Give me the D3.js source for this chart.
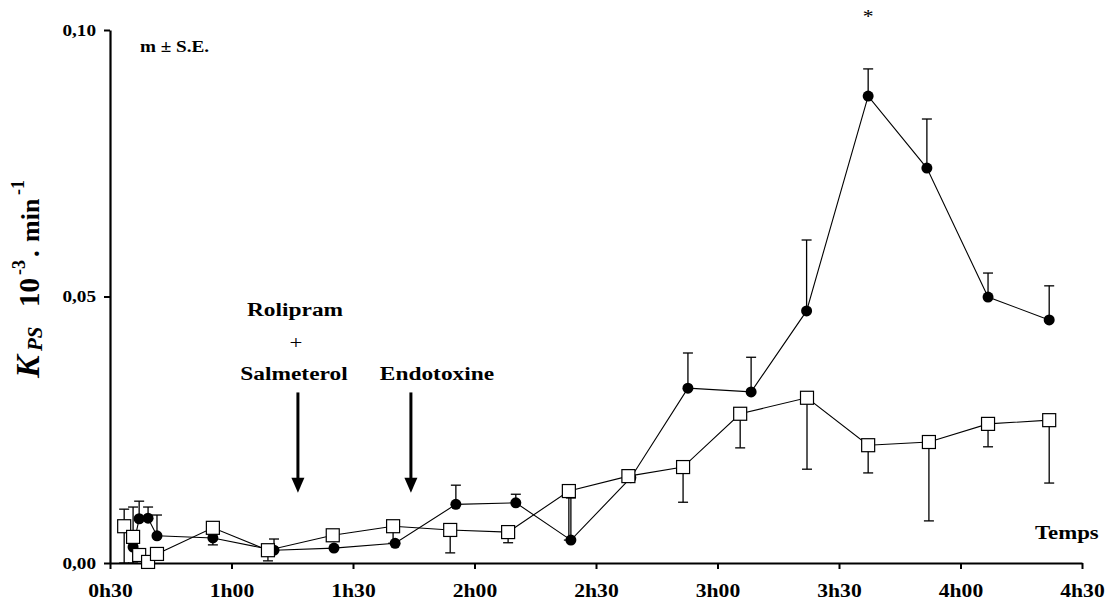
<!DOCTYPE html>
<html>
<head>
<meta charset="utf-8">
<script src="https://cdn.jsdelivr.net/npm/d3@7"></script>
<style>
  body { margin: 0; background: #fff; }
  svg text { font-family: "Liberation Serif", "DejaVu Serif", serif; font-weight: bold; }
</style>
</head>
<body>
<svg id="chart"></svg>
<script>
// time in minutes, values in 10^-3 . min^-1

// treated group (filled circles)
const circleTimes = [35.7, 37.2, 39.4, 41.6, 55.4, 70.5, 85.3, 100.4, 115.4, 130.2, 143.8, 158.6, 172.7, 188.3, 202, 217.2, 231.7, 246.8, 261.9];
const circleValues = [0.0030, 0.0083, 0.0084, 0.0051, 0.0047, 0.0024, 0.0028, 0.0037, 0.0110, 0.0113, 0.0043, 0.0160, 0.0328, 0.0321, 0.0473, 0.0876, 0.0741, 0.0499, 0.0456];
const circleErrUp = [0, 0.0033, 0.0021, 0.0039, 0, 0.0021, 0, 0, 0.0036, 0.0016, 0.0079, 0, 0.0066, 0.0065, 0.0133, 0.0051, 0.0092, 0.0045, 0.0064];
const circleErrDown = [0, 0, 0, 0, 0.0013, 0, 0, 0, 0, 0, 0, 0, 0, 0, 0, 0, 0, 0, 0];

// control group (open squares)
const squareTimes = [33.5, 35.7, 37.2, 39.4, 41.6, 55.4, 69.0, 85.0, 99.9, 114.0, 128.3, 143.3, 158.0, 171.5, 185.6, 202.1, 217.2, 232.2, 246.8, 261.9];
const squareValues = [0.0069, 0.0049, 0.0015, 0.0002, 0.0017, 0.0066, 0.0024, 0.0052, 0.0069, 0.0062, 0.0058, 0.0135, 0.0163, 0.0180, 0.0280, 0.0310, 0.0221, 0.0227, 0.0261, 0.0268];
const squareErrUp = [0.0032, 0.0056, 0, 0, 0, 0, 0, 0, 0, 0, 0, 0, 0, 0, 0, 0, 0, 0, 0, 0];
const squareErrDown = [0.0069, 0.0049, 0, 0, 0, 0, 0.0020, 0, 0.0032, 0.0043, 0.0020, 0.0092, 0, 0.0066, 0.0064, 0.0134, 0.0052, 0.0148, 0.0043, 0.0118];

// axis ticks
const xTicks = [30, 60, 90, 120, 150, 180, 210, 240, 270];
const yTicks = [0, 0.05, 0.10];

// arrows: time of injection
const arrowTimes = [76.4, 104.3];
const arrowLabels = ["Salmeterol", "Endotoxine"];

const width = 1105;
const height = 603;
const SX = 1.2;   // the original lettering is a bit wider than Times

const svg = d3.select('#chart')
    .attr('width', width)
    .attr('height', height);

const x = d3.scaleLinear().domain([30, 270]).range([110, 1082]);
const y = d3.scaleLinear().domain([0, 0.1]).range([563, 30]);

// axes
const xAxis = d3.axisBottom(x)
    .tickValues(xTicks)
    .tickSize(6)
    .tickSizeOuter(0)
    .tickPadding(15)
    .tickFormat(m => Math.floor(m / 60) + 'h' + String(m % 60).padStart(2, '0'));

const yAxis = d3.axisLeft(y)
    .tickValues(yTicks)
    .tickSize(6)
    .tickSizeOuter(0)
    .tickPadding(8)
    .tickFormat(v => d3.format('.2f')(v).replace('.', ','));

const gx = svg.append('g')
    .attr('transform', `translate(0,${y(0)})`)
    .call(xAxis);

const gy = svg.append('g')
    .attr('transform', `translate(${x(30)},0)`)
    .call(yAxis);

[gx, gy].forEach(g => {
    g.select('.domain').attr('stroke', '#000').attr('stroke-width', 2.2);
    g.selectAll('.tick line').attr('stroke', '#000').attr('stroke-width', 2);
    g.selectAll('.tick text')
        .attr('fill', '#000')
        .style('font-family', '"Liberation Serif", serif')
        .style('font-weight', 'bold');
});
gx.selectAll('.tick text').style('font-size', '18px').attr('transform', `scale(${SX},1)`);
gy.selectAll('.tick text').style('font-size', '16px')
    .attr('x', -14 / SX)
    .attr('transform', `scale(${SX},1)`);

// series
const circles = circleTimes.map((t, i) => ({ t: t, v: circleValues[i], up: circleErrUp[i], down: circleErrDown[i] }));
const squares = squareTimes.map((t, i) => ({ t: t, v: squareValues[i], up: squareErrUp[i], down: squareErrDown[i] }));

const line = d3.line()
    .x(d => x(d.t))
    .y(d => y(d.v));

function drawErrors(data) {
    const g = svg.append('g').attr('stroke', '#000').attr('stroke-width', 1.3);
    data.forEach(d => {
        [[d.up, 1], [d.down, -1]].forEach(([e, s]) => {
            if (!e) return;
            const y1 = y(d.v + s * e);
            g.append('line').attr('x1', x(d.t)).attr('x2', x(d.t)).attr('y1', y(d.v)).attr('y2', y1);
            g.append('line').attr('x1', x(d.t) - 5).attr('x2', x(d.t) + 5).attr('y1', y1).attr('y2', y1);
        });
    });
}

svg.append('path')
    .datum(circles)
    .attr('fill', 'none')
    .attr('stroke', '#000')
    .attr('stroke-width', 1.1)
    .attr('d', line);

svg.append('path')
    .datum(squares)
    .attr('fill', 'none')
    .attr('stroke', '#000')
    .attr('stroke-width', 1.1)
    .attr('d', line);

drawErrors(circles);
drawErrors(squares);

svg.selectAll('circle.dot')
    .data(circles)
    .enter()
    .append('circle')
    .attr('class', 'dot')
    .attr('cx', d => x(d.t))
    .attr('cy', d => y(d.v))
    .attr('r', 5.5)
    .attr('fill', '#000');

svg.selectAll('rect.sq')
    .data(squares)
    .enter()
    .append('rect')
    .attr('class', 'sq')
    .attr('x', d => x(d.t) - 6.5)
    .attr('y', d => y(d.v) - 6.5)
    .attr('width', 13)
    .attr('height', 13)
    .attr('fill', '#fff')
    .attr('stroke', '#000')
    .attr('stroke-width', 1.2);

// arrows
arrowTimes.forEach((t, i) => {
    const ax = x(t);
    svg.append('line')
        .attr('x1', ax).attr('x2', ax)
        .attr('y1', y(0.032)).attr('y2', y(0.0155))
        .attr('stroke', '#000').attr('stroke-width', 3);
    svg.append('path')
        .attr('d', `M${ax - 6.5},${y(0.016)} L${ax + 6.5},${y(0.016)} L${ax},${y(0.0132)} Z`)
        .attr('fill', '#000');
});

// horizontal texts, slightly stretched
function label(px, py, str, size, anchor, weight) {
    return svg.append('text')
        .attr('transform', `translate(${px},${py}) scale(${SX},1)`)
        .attr('text-anchor', anchor || 'start')
        .style('font-size', size + 'px')
        .style('font-weight', weight || 'bold')
        .text(str);
}

label(295, 316, 'Rolipram', 19.5, 'middle');
label(296, 349, '+', 19, 'middle', 'normal');
label(294, 380, arrowLabels[0], 19.5, 'middle');
label(437, 380, arrowLabels[1], 19.5, 'middle');
label(140, 52, 'm ± S.E.', 16);
label(1035, 539, 'Temps', 19);
label(x(217.2), 23, '*', 18, 'middle', 'normal');

// y axis title (rotated, pieces placed along the axis)
const yt = svg.append('text')
    .attr('transform', 'translate(39,0) rotate(-90)');
yt.append('tspan').attr('x', -378).attr('y', 0).style('font-size', '34px').style('font-style', 'italic').text('K');
yt.append('tspan').attr('x', -351).attr('y', 3).style('font-size', '21px').style('font-style', 'italic').text('PS');
yt.append('tspan').attr('x', -307).attr('y', 0).style('font-size', '29px').text('10');
yt.append('tspan').attr('x', -275).attr('y', -14).style('font-size', '18px').text('-3');
yt.append('tspan').attr('x', -257).attr('y', 0).style('font-size', '27px').text('.');
yt.append('tspan').attr('x', -242).attr('y', 0).style('font-size', '26px').text('min');
yt.append('tspan').attr('x', -195).attr('y', -15).style('font-size', '18px').text('-1');
</script>
</body>
</html>
